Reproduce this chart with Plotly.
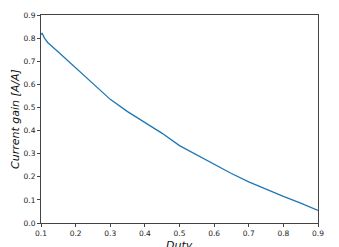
import plotly.graph_objects as go

duty = [0.1, 0.103, 0.11, 0.12, 0.15, 0.2, 0.25, 0.3, 0.35, 0.4, 0.45, 0.5,
        0.55, 0.6, 0.65, 0.7, 0.75, 0.8, 0.85, 0.9]
gain = [0.815, 0.822, 0.80, 0.78, 0.74, 0.672, 0.60, 0.535, 0.482, 0.435, 0.388, 0.335,
        0.294, 0.252, 0.214, 0.178, 0.145, 0.115, 0.086, 0.054]

x_ticks = [0.1, 0.2, 0.3, 0.4, 0.5, 0.6, 0.7, 0.8, 0.9]
y_ticks = [0.0, 0.1, 0.2, 0.3, 0.4, 0.5, 0.6, 0.7, 0.8, 0.9]

fig = go.Figure(go.Scatter(x=duty, y=gain, mode="lines",
                           line=dict(color="#1f77b4", width=1.3)))

axis_common = dict(showgrid=False, zeroline=False, showline=True, linecolor="#444",
                   linewidth=1, mirror=True, ticks="outside", ticklen=3, tickwidth=1,
                   tickcolor="#444", automargin=False,
                   tickfont=dict(family="DejaVu Sans", size=7.5, color="#222"))

title_font = dict(family="DejaVu Sans", size=11, color="#111")

fig.update_layout(
    width=339, height=247,
    margin=dict(l=41, r=21, t=15, b=24),
    paper_bgcolor="white", plot_bgcolor="white",
    showlegend=False,
    xaxis=dict(range=[0.1, 0.9], tickvals=x_ticks, ticktext=[f"{v:.1f}" for v in x_ticks],
               **axis_common),
    yaxis=dict(range=[0, 0.9], tickvals=y_ticks, ticktext=[f"{v:.1f}" for v in y_ticks],
               **axis_common),
    annotations=[
        dict(text="<i>Duty</i>", xref="paper", yref="paper", x=0.5, y=-0.106,
             xanchor="center", yanchor="middle", showarrow=False, font=title_font),
        dict(text="<i>Current gain [A/A]</i>", xref="paper", yref="paper", x=-0.094, y=0.5,
             xanchor="center", yanchor="middle", textangle=-90, showarrow=False, font=title_font),
    ],
)

fig.write_html("out.html", config={"displayModeBar": False},
               post_script="document.body.style.margin='0';document.body.style.overflow='hidden';")
